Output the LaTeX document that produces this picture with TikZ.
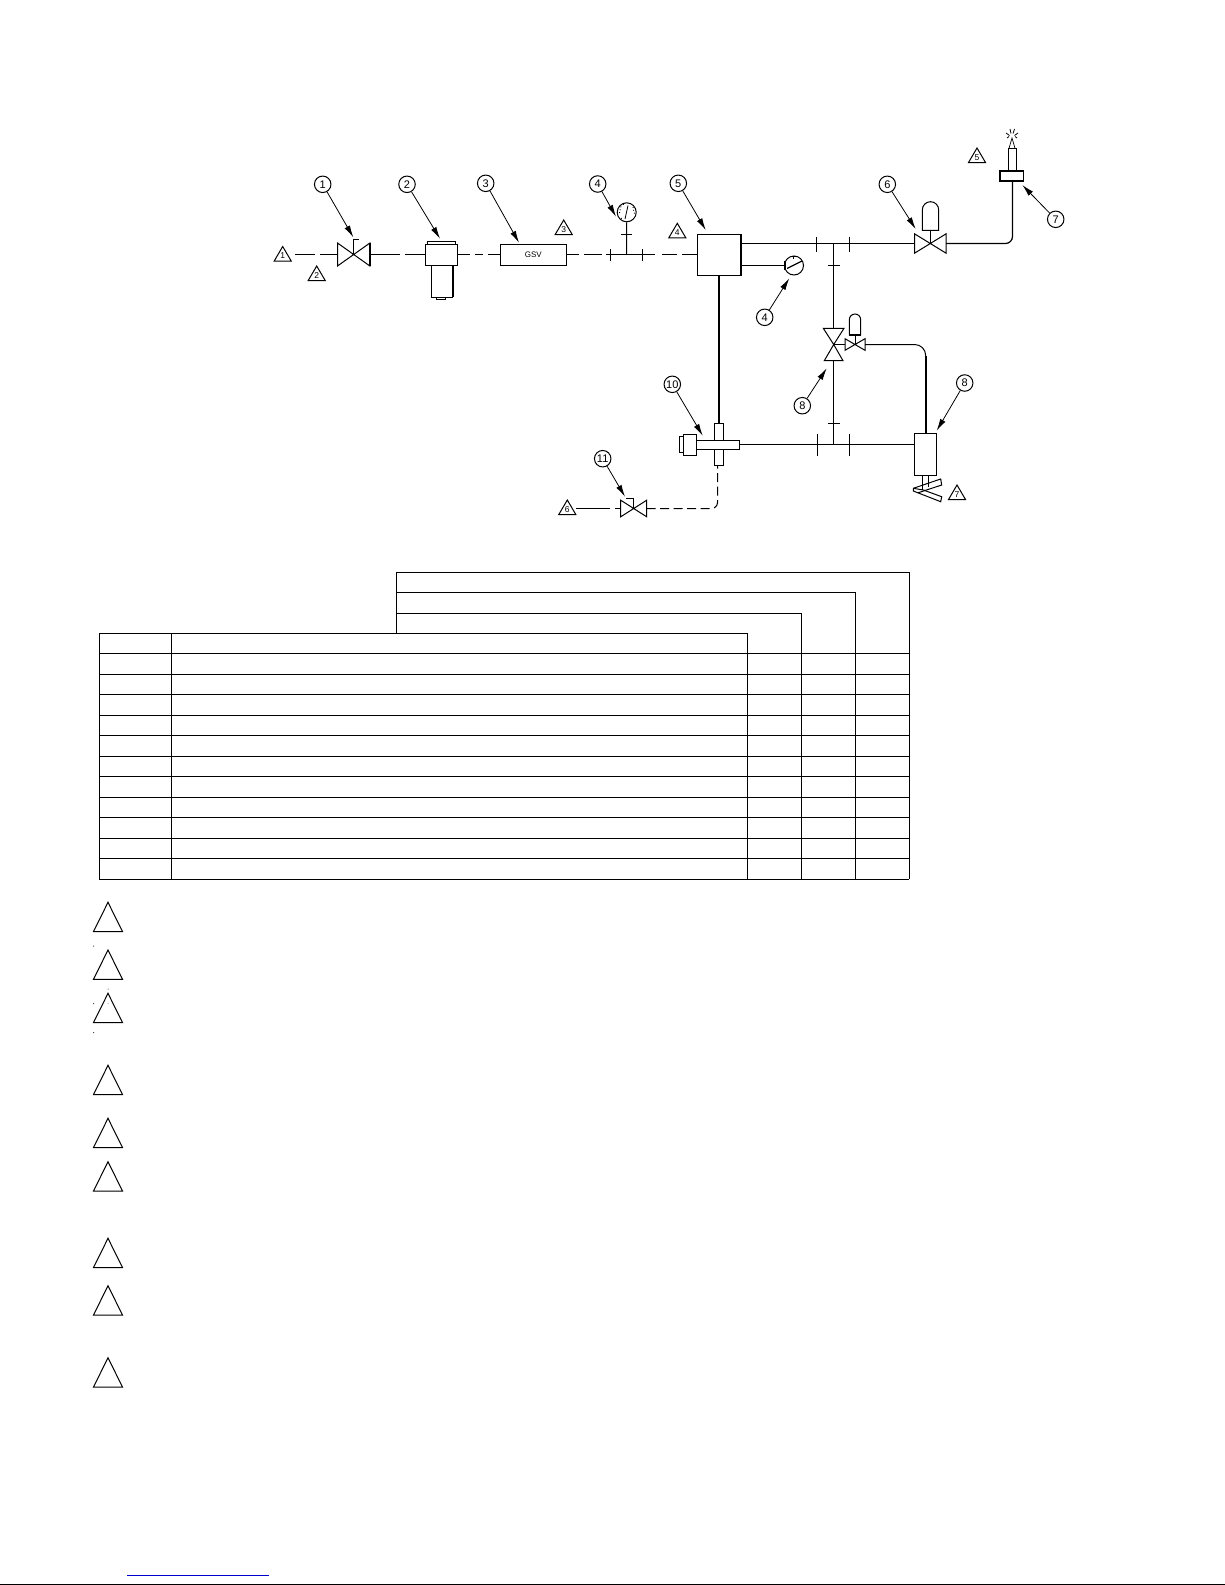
\documentclass[tikz,border=0pt]{standalone}
\usepackage{fontspec}
\setmainfont{Liberation Sans}
\usetikzlibrary{arrows.meta}
\tikzset{
  ln/.style={line width=1pt,line join=miter},
  thk/.style={line width=1.8pt},
  eq/.style={draw,line width=1pt,fill=white,inner sep=0pt,outer sep=0pt,rectangle},
  balloon/.style={draw,circle,line width=1pt,minimum size=16.5pt,inner sep=0pt,font=\fontsize{11}{12}\selectfont},
  gauge/.style={draw,circle,line width=1pt,minimum size=19pt,inner sep=0pt,fill=white},
  lead/.style={line width=0.8pt,-{Latex[length=12pt,width=6pt]}},
  tick/.style={line width=1pt},
  tab/.style={line width=0.85pt},
  bign/.style={line width=1pt,line join=miter},
  tlab/.style={inner sep=0pt,font=\fontsize{8.5}{9}\selectfont},
}
% small triangle note: name, apex x, apex y, text
\newcommand{\notetri}[4]{%
  \draw[ln] (#2,#3) -- (#2-8.5,#3+14.5) -- (#2+8.5,#3+14.5) -- cycle;
  \node[tlab] (#1) at (#2,#3+9.5) {#4};}
% big empty triangle: apex x, apex y
\newcommand{\bigtri}[2]{\draw[bign] (#1,#2) -- (93.5,#2+29.3) -- (122.5,#2+29.3) -- cycle;}
% horizontal bow-tie valve: name, x, y, half width, half height
\newcommand{\hvalve}[5]{%
  \path[shift={(#2,#3)}] coordinate (#1) at (0,0) coordinate (#1l) at (-#4,0) coordinate (#1r) at (#4,0);
  \draw[ln,shift={(#2,#3)}] (-#4,-#5) -- (#4,#5) -- (#4,-#5) -- (-#4,#5) -- cycle;}
% dome actuator: x centre, top y, bottom y, half width
\newcommand{\dome}[4]{%
  \draw[ln] (#1-#4,#3) -- (#1-#4,#2+#4) arc[start angle=180,end angle=360,radius=#4] -- (#1+#4,#3) -- cycle;}
\begin{document}
\begin{tikzpicture}[x=1pt,y=-1pt]
\useasboundingbox (0,0) rectangle (1225,1585);
\fill[white] (0,0) rectangle (1225,1585);

% ---------- equipment ----------
\notetri{n1}{282.7}{246.5}{1}
\notetri{n2}{316.7}{266}{2}
\notetri{n3}{563.7}{220}{3}
\notetri{n4}{677.3}{223.3}{4}
\notetri{n5}{977}{148}{5}
\notetri{n6}{567.3}{500}{6}
\notetri{n7}{957}{485}{7}

\hvalve{v1}{353.7}{254.5}{16.2}{11.5}
\draw[thk] (370,242.7) -- (370,265.7);
\draw[ln] (353.7,254.5) -- (353.7,239.3) -- (359,239.3);

% filter
\node[eq,minimum width=32.4pt,minimum height=21.4pt] (filt) at (441.5,255) {};
\node[eq,minimum width=28pt,minimum height=3pt] (fcap) at (441.7,242.8) {};
\node[eq,minimum width=21pt,minimum height=31.7pt] (fbowl) at (442.2,281.5) {};
\draw[thk] (452.9,265.7) -- (452.9,297);
\node[eq,minimum width=9.5pt,minimum height=2pt] (fnub) at (441,298.2) {};

\node[eq,minimum width=66pt,minimum height=21.4pt,font=\fontsize{8}{9}\selectfont] (gsv) at (533.3,255) {GSV};

% tee with gauge
\coordinate (t1) at (626.5,254.5);
\node[gauge] (g1) at (626.7,212.3) {};
\draw[line width=0.8pt] (625,219) -- (628,205.5);
\draw[line width=0.9pt,dotted] (619.5,213) -- (621,206) (633,207) -- (634.5,214) (621,218) -- (623,220.5) (623,204.5) -- (625,204);
\draw[ln] (t1) -- (g1);
\draw[tick] (621,234.5) -- (632,234.5);
\draw[tick] (610.5,249.3) -- (610.5,260.7);
\draw[tick] (642.5,249.3) -- (642.5,260.7);

% block 5
\node[eq,minimum width=44pt,minimum height=41.4pt] (blk) at (719.3,255) {};
\draw[thk] (741.3,234.3) -- (741.3,275.7);

% main dashed line
\coordinate (d0) at (295,254.5);
\coordinate (t2) at (606,254.5);
\coordinate (t3) at (655,254.5);
\draw[ln,dash pattern=on 20pt off 5pt on 17pt off 5pt] (d0) -- (v1l);
\draw[ln,dash pattern=on 30pt off 5pt on 20pt off 5pt] (v1r) -- (v1r -| filt.west);
\draw[ln,dash pattern=on 12.3pt off 5pt on 8pt off 5pt on 12pt off 5pt] (v1r -| filt.east) -- (v1r -| gsv.west);
\draw[ln,dash pattern=on 13pt off 5pt on 18pt off 5pt] (v1r -| gsv.east) -- (v1r -| 602,0);
\draw[ln] (t2) -- (t3);
\draw[ln,dash pattern=on 15pt off 5pt on 15pt off 5pt] (662,254.5) -- (v1r -| blk.west);

% upper right line
\coordinate (j1) at (833.5,243.5);
\hvalve{v6}{930.3}{243.5}{15.8}{9.7}
\draw[ln] (741.3,243.5) -- (v6l);
\draw[tick] (816.5,236.7) -- (816.5,251.7);
\draw[tick] (849.5,236.7) -- (849.5,251.7);
\draw[tick] (828,265.5) -- (840,265.5);
\draw[ln] (v6) -- (930.3,230.3);
\dome{930.5}{201.7}{230.3}{8.2}

% burner
\node[eq,line width=1.6pt,minimum width=23.6pt,minimum height=10pt] (brn) at (1011.5,175.7) {};
\draw[line width=1.2pt,rounded corners=7pt] (v6r) -- (1012.5,243.5) -- (1012.5,180.7);
\draw[ln] (1008,170.7) -- (1008,148.3) -- (1016.3,148.3) -- (1016.3,170.7);
\draw[line width=0.7pt] (1009,148.3) -- (1012,138) -- (1015,148.3);
\draw[line width=0.8pt] (1006,133) -- (1009.5,135.5) (1018,133) -- (1014.5,135.5) (1010,129) -- (1011,133.5) (1014.5,129) -- (1013,133.5) (1007,138) -- (1009,136.5) (1017,138) -- (1015,136.5);

% gauge 2
\node[gauge] (g2) at (794,265.5) {};
\draw[ln] (741.3,265.5) -- (g2.west);
\draw[thk] (784.6,261) -- (784.6,269.5);
\draw[line width=1.2pt] (787,268.5) -- (802,261);
\draw[ln] (791,256.5) -- (796,256.5) (793.5,256.5) -- (793.5,259);

% vertical thick line to tee
\node[eq,minimum width=8.7pt,minimum height=42pt] (tv) at (718.7,444.3) {};
\node[eq,minimum width=43pt,minimum height=9.4pt] (th) at (718.2,445) {};
\node[eq,minimum width=13.4pt,minimum height=21pt,line width=1.2pt] (tb) at (690,444.8) {};
\node[eq,minimum width=4pt,minimum height=15.6pt] (tc) at (681.3,444.5) {};
\draw[thk] (719,275.7) -- (719,423.3);

% lower line
\coordinate (j2) at (833.5,444.5);
\node[eq,minimum width=22.4pt,minimum height=42pt] (act) at (925.5,454.3) {};
\draw[ln] (739.7,444.5) -- (914.3,444.5);
\draw[tick] (817.5,434.3) -- (817.5,455.7);
\draw[tick] (849.5,434.3) -- (849.5,455.7);
\draw[tick] (827.7,423.5) -- (840,423.5);

% valve 8 (vertical)
\coordinate (v8) at (833.7,344.5);
\draw[ln] (823.3,328.3) -- (844,328.3) -- (v8) -- cycle;
\draw[ln] (824.3,360.7) -- (843,360.7) -- (v8) -- cycle;
\draw[ln] (j1) -- (833.5,328.3);
\draw[ln] (833.5,360.7) -- (j2);

% pilot valve
\hvalve{v9}{855}{344.5}{10}{5.8}
\draw[ln] (v8) -- (v9l);
\draw[ln] (v9) -- (855,334.7);
\dome{855}{314}{334.7}{5.7}
\draw[thk] (849.3,334.7) -- (860.7,334.7);
\draw[ln,rounded corners=11pt] (v9r) -- (925.7,344.5) -- (925.7,357);
\draw[thk] (925.7,356) -- (925.7,433.3);

% foot
\draw[ln] (922.3,475.3) -- (922.3,490) (928,475.3) -- (928,487);
\draw[line width=1pt] (913.3,488.3) -- (940.7,479) -- (941.7,485) -- (918.3,492.7);
\draw[line width=1pt] (913.3,488.3) -- (913.3,491) -- (940.7,501.7) -- (941.7,496.7) -- (923.3,490) -- (913.3,488.3);

% valve 11 and dashed return
\hvalve{v11}{633.7}{508.5}{13}{8.3}
\draw[ln] (v11) -- (633.7,498.3) -- (626,498.3);
\coordinate (d6) at (576,508.5);
\draw[ln,dash pattern=on 34pt off 5pt on 6pt off 5pt] (d6) -- (v11l);
\draw[ln,dash pattern=on 9pt off 4.5pt,rounded corners=6pt] (v11r) -- (717.5,508.5) -- (717.5,465.3);

% ---------- balloons ----------
\node[balloon] (b1) at (322.7,184.3) {1};
\node[balloon] (b2) at (407,184.3) {2};
\node[balloon] (b3) at (485.7,183.3) {3};
\node[balloon] (b4) at (597.7,184) {4};
\node[balloon] (b5) at (678.3,183.3) {5};
\node[balloon] (b6) at (887.3,184.3) {6};
\node[balloon] (b7) at (1055.7,219.3) {7};
\node[balloon] (b4b) at (764.7,317.3) {4};
\node[balloon] (b8a) at (802.3,405.7) {8};
\node[balloon] (b8b) at (964.7,383) {8};
\node[balloon] (b10) at (672.3,384.3) {10};
\node[balloon] (b11) at (602.7,458.7) {11};

\coordinate (a1) at (353.3,237.3);
\coordinate (a2) at (440,238.7);
\coordinate (a3) at (519,242.7);
\coordinate (a4) at (616,216.7);
\coordinate (a5) at (705.7,230);
\coordinate (a6) at (915.7,229);
\coordinate (a7) at (1022.3,185);
\coordinate (a4b) at (789.3,278.3);
\coordinate (a8a) at (826.7,368.3);
\coordinate (a8b) at (936.7,430.7);
\coordinate (a10) at (702.7,435.7);
\coordinate (a11) at (625,496.7);
\foreach \b/\a in {b1/a1,b2/a2,b3/a3,b4/a4,b5/a5,b6/a6,b7/a7,b4b/a4b,b8a/a8a,b8b/a8b,b10/a10,b11/a11}
  \draw[lead] (\b) -- (\a);

% ---------- table ----------
\draw[tab] (396.3,633.3) -- (396.3,572.3) -- (909.3,572.3) -- (909.3,879.3);
\draw[tab] (396.3,592.3) -- (855.3,592.3) -- (855.3,879.3);
\draw[tab] (396.3,613.3) -- (801.3,613.3) -- (801.3,879.3);
\draw[tab] (99.7,633.3) -- (747.3,633.3) -- (747.3,879.3);
\draw[tab] (99.7,633.3) -- (99.7,879.3) -- (909.3,879.3);
\draw[tab] (171.7,633.3) -- (171.7,879.3);
\foreach \i in {1,...,11}
  \draw[tab] (99.7,633.3+\i*20.5) -- (909.3,633.3+\i*20.5);

% ---------- note triangles ----------
\bigtri{108}{902.3}
\bigtri{108}{950}
\bigtri{108}{993.3}
\bigtri{108}{1065.3}
\bigtri{108}{1118.3}
\bigtri{108}{1161.7}
\bigtri{108}{1238.3}
\bigtri{108}{1285.7}
\bigtri{108}{1357.7}
\fill[black!70] (93,945.5) rectangle (94,946.5) (93,1003) rectangle (94,1004) (93,1032) rectangle (94,1033);
\fill[black!40] (107.5,988.5) rectangle (108.8,989.5) (107.5,1003) rectangle (108.8,1003.7);

% ---------- foot of page ----------
\draw[line width=1pt,draw={rgb,255:red,0;green,0;blue,204}] (127,1575.5) -- (269,1575.5);
\draw[line width=1.4pt] (0,1584.3) -- (1225,1584.3);
\end{tikzpicture}
\end{document}
